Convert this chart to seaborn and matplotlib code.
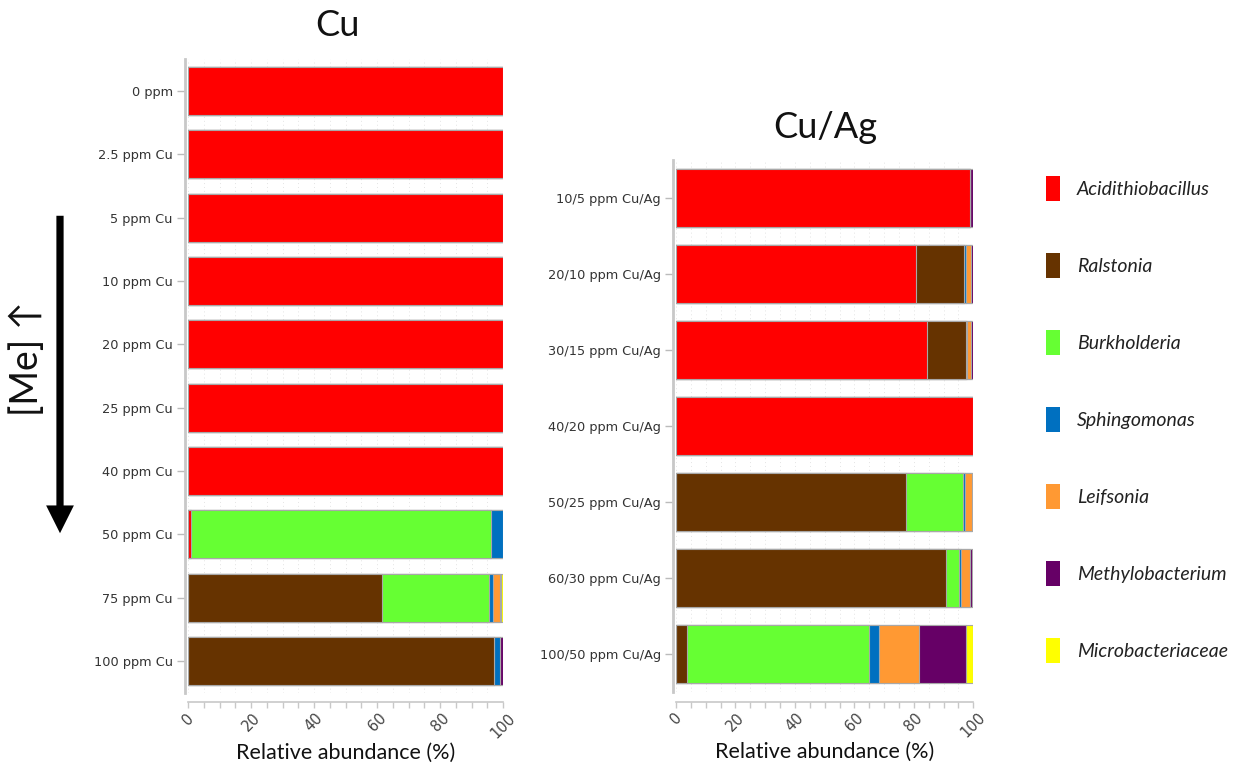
import matplotlib
matplotlib.use("Agg")
import matplotlib.pyplot as plt
import matplotlib.patches as mpatches
import numpy as np
import pandas as pd
import seaborn as sns

# ---- data -------------------------------------------------------------
taxa = ["Acidithiobacillus", "Ralstonia", "Burkholderia", "Sphingomonas",
        "Leifsonia", "Methylobacterium", "Microbacteriaceae"]
taxa_colors = ["#FF0000", "#663300", "#66FF33", "#0070C0",
               "#FF9933", "#660066", "#FFFF00"]

cu_conditions = ["0 ppm", "2.5 ppm Cu", "5 ppm Cu", "10 ppm Cu", "20 ppm Cu",
                 "25 ppm Cu", "40 ppm Cu", "50 ppm Cu", "75 ppm Cu", "100 ppm Cu"]
cu_acidithiobacillus = [100, 100, 100, 100, 100, 100, 100, 0.8, 0, 0]
cu_ralstonia = [0, 0, 0, 0, 0, 0, 0, 0, 61.6, 97.3]
cu_burkholderia = [0, 0, 0, 0, 0, 0, 0, 95.3, 34.0, 0]
cu_sphingomonas = [0, 0, 0, 0, 0, 0, 0, 3.9, 1.1, 1.6]
cu_leifsonia = [0, 0, 0, 0, 0, 0, 0, 0, 2.3, 0]
cu_methylobacterium = [0, 0, 0, 0, 0, 0, 0, 0, 0.5, 1.1]
cu_microbacteriaceae = [0, 0, 0, 0, 0, 0, 0, 0, 0.5, 0]

cuag_conditions = ["10/5 ppm Cu/Ag", "20/10 ppm Cu/Ag", "30/15 ppm Cu/Ag",
                   "40/20 ppm Cu/Ag", "50/25 ppm Cu/Ag", "60/30 ppm Cu/Ag",
                   "100/50 ppm Cu/Ag"]
cuag_acidithiobacillus = [98.8, 80.7, 84.3, 100, 0, 0, 0]
cuag_ralstonia = [0, 16.3, 13.1, 0, 77.2, 90.7, 3.8]
cuag_burkholderia = [0, 0, 0, 0, 19.4, 4.5, 61.0]
cuag_sphingomonas = [0, 0.5, 0.5, 0, 0.6, 0.7, 3.4]
cuag_leifsonia = [0, 1.6, 1.2, 0, 2.5, 3.0, 13.4]
cuag_methylobacterium = [1.2, 0.9, 0.9, 0, 0, 0.7, 15.8]
cuag_microbacteriaceae = [0, 0, 0, 0, 0.3, 0.4, 2.6]


def long_table(conditions, columns):
    frames = []
    for name, vals in zip(taxa, columns):
        frames.append(pd.DataFrame({"condition": conditions, "taxon": name,
                                    "abundance": vals}))
    df = pd.concat(frames, ignore_index=True)
    df["taxon"] = pd.Categorical(df["taxon"], categories=taxa, ordered=True)
    df = df.sort_values(["condition", "taxon"])
    df["cumulative"] = df.groupby("condition", sort=False)["abundance"].cumsum()
    return df


cu_df = long_table(cu_conditions, [cu_acidithiobacillus, cu_ralstonia,
                                   cu_burkholderia, cu_sphingomonas,
                                   cu_leifsonia, cu_methylobacterium,
                                   cu_microbacteriaceae])
cuag_df = long_table(cuag_conditions, [cuag_acidithiobacillus, cuag_ralstonia,
                                       cuag_burkholderia, cuag_sphingomonas,
                                       cuag_leifsonia, cuag_methylobacterium,
                                       cuag_microbacteriaceae])

# ---- style ------------------------------------------------------------
sns.set_theme(style="white")
plt.rcParams["font.family"] = ["DejaVu Sans"]
label_font = ["Lato", "DejaVu Sans"]

W, H = 1242, 772
fig = plt.figure(figsize=(W / 100, H / 100), dpi=100)


def px_axes(x0, x1, y_top, y_bot):
    return fig.add_axes([x0 / W, 1 - y_bot / H, (x1 - x0) / W, (y_bot - y_top) / H])


def stacked_panel(ax, df, conditions):
    # draw cumulative totals from the last taxon backwards so segments stack
    for name, col in reversed(list(zip(taxa, taxa_colors))):
        sub = df[df["taxon"] == name]
        sns.barplot(data=sub, x="cumulative", y="condition", order=conditions,
                    orient="h", color=col, saturation=1, width=0.76,
                    edgecolor="#a8a8a8", linewidth=0.8, errorbar=None, ax=ax)
    ax.set_xlim(0, 100)
    ax.set_ylim(len(conditions) - 0.5, -0.5)
    ax.set_xticks(np.arange(0, 101, 20))
    ax.set_xticks(np.arange(0, 101, 5), minor=True)
    ax.grid(axis="x", which="both", linestyle=(0, (1, 3)), color="#e4e4e4",
            linewidth=0.7)
    ax.set_axisbelow(True)
    for s in ("top", "right"):
        ax.spines[s].set_visible(False)
    ax.spines["left"].set_color("#c8c8c8")
    ax.spines["left"].set_linewidth(2.0)
    ax.spines["left"].set_position(("outward", 2))
    ax.spines["bottom"].set_color("#c8c8c8")
    ax.spines["bottom"].set_linewidth(1.2)
    ax.spines["bottom"].set_position(("outward", 7))
    ax.tick_params(axis="y", which="major", length=6, width=1, color="#bbbbbb",
                   labelsize=9.3, labelcolor="#333333", pad=3, left=True)
    ax.tick_params(axis="x", which="both", length=4, width=1, color="#c8c8c8",
                   direction="out", bottom=True)
    ax.tick_params(axis="x", which="major", labelsize=10.5, labelcolor="#444444",
                   pad=2)
    for lab in ax.get_xticklabels():
        lab.set_rotation(45)
        lab.set_ha("center")
    ax.set_ylabel("")
    ax.set_xlabel("Relative abundance (%)", family=label_font, fontsize=15.5,
                  color="#111111", labelpad=1)


ax_cu = px_axes(188, 503, 59.3, 692.7)
stacked_panel(ax_cu, cu_df, cu_conditions)

ax_ag = px_axes(676, 973.3, 160, 692)
stacked_panel(ax_ag, cuag_df, cuag_conditions)

# panel titles
fig.text(337 / W, 1 - 25 / H, "Cu", family=label_font, fontsize=26,
         ha="center", va="center", color="#111111")
fig.text(825 / W, 1 - 128 / H, "Cu/Ag", family=label_font, fontsize=26,
         ha="center", va="center", color="#111111")

# increasing metal concentration arrow
fig.add_artist(mpatches.FancyArrowPatch(
    (60 / W, 1 - 213 / H), (60 / W, 1 - 536 / H), transform=fig.transFigure,
    arrowstyle="simple,head_length=1.0,head_width=1.0,tail_width=0.26",
    mutation_scale=20, linewidth=0, color="black"))
fig.text(27 / W, 1 - 358 / H, "[Me] \u2191", family=label_font, fontsize=27,
         rotation=90, ha="center", va="center", color="#111111")

# legend
handles = [mpatches.Patch(facecolor=c, edgecolor="none", label=t)
           for t, c in zip(taxa, taxa_colors)]
fig.legend(handles=handles, loc="upper left",
           bbox_to_anchor=(1038 / W, 1 - 168 / H), frameon=False,
           prop={"family": label_font, "style": "italic", "size": 14},
           labelcolor="#222222", handlelength=0.75, handleheight=1.6,
           handletextpad=0.85, labelspacing=2.68, borderaxespad=0)

fig.savefig("out.png", dpi=100)
